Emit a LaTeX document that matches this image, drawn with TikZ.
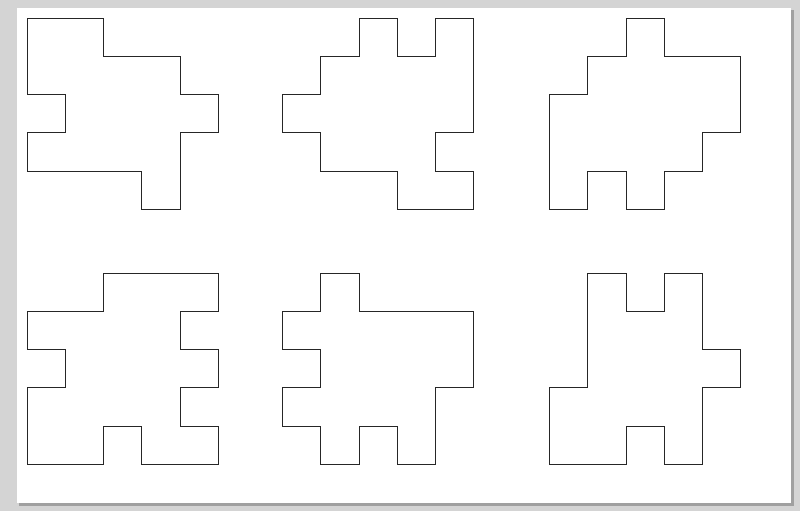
\documentclass[tikz,border=0pt]{standalone}
\usepackage{xcolor}

\definecolor{pagegray}{RGB}{212,212,212}
\definecolor{shadowgray}{RGB}{160,160,160}
\tikzset{piece/.style={line width=1pt, draw=black!85, line join=miter}}

\begin{document}
\begin{tikzpicture}[x=1pt,y=-1pt]

% Page
\fill [pagegray] (0,0) rectangle (800,511);
\useasboundingbox (0,0) rectangle (800,511);
\fill [shadowgray] (19,10) rectangle (794,506);
\fill [white] (17,8) rectangle (791,503);

% Top row
\begin{scope}[shift={(27.3,18.3)},x=38.2pt,y=-38.2pt]
\draw [piece] (0,0) -- (2,0) -- (2,1) -- (4,1) -- (4,2) -- (5,2) -- (5,3) -- (4,3) -- (4,5) -- (3,5) -- (3,4) -- (0,4) -- (0,3) -- (1,3) -- (1,2) -- (0,2) -- cycle;
\end{scope}
\begin{scope}[shift={(282.7,18.3)},x=38.2pt,y=-38.2pt]
\draw [piece] (2,0) -- (3,0) -- (3,1) -- (4,1) -- (4,0) -- (5,0) -- (5,3) -- (4,3) -- (4,4) -- (5,4) -- (5,5) -- (3,5) -- (3,4) -- (1,4) -- (1,3) -- (0,3) -- (0,2) -- (1,2) -- (1,1) -- (2,1) -- cycle;
\end{scope}
\begin{scope}[shift={(549.7,18.3)},x=38.2pt,y=-38.2pt]
\draw [piece] (2,0) -- (3,0) -- (3,1) -- (5,1) -- (5,3) -- (4,3) -- (4,4) -- (3,4) -- (3,5) -- (2,5) -- (2,4) -- (1,4) -- (1,5) -- (0,5) -- (0,2) -- (1,2) -- (1,1) -- (2,1) -- cycle;
\end{scope}

% Bottom row
\begin{scope}[shift={(27.3,273.3)},x=38.2pt,y=-38.2pt]
\draw [piece] (2,0) -- (5,0) -- (5,1) -- (4,1) -- (4,2) -- (5,2) -- (5,3) -- (4,3) -- (4,4) -- (5,4) -- (5,5) -- (3,5) -- (3,4) -- (2,4) -- (2,5) -- (0,5) -- (0,3) -- (1,3) -- (1,2) -- (0,2) -- (0,1) -- (2,1) -- cycle;
\end{scope}
\begin{scope}[shift={(282.7,273.3)},x=38.2pt,y=-38.2pt]
\draw [piece] (1,0) -- (2,0) -- (2,1) -- (5,1) -- (5,3) -- (4,3) -- (4,5) -- (3,5) -- (3,4) -- (2,4) -- (2,5) -- (1,5) -- (1,4) -- (0,4) -- (0,3) -- (1,3) -- (1,2) -- (0,2) -- (0,1) -- (1,1) -- cycle;
\end{scope}
\begin{scope}[shift={(549.7,273.3)},x=38.2pt,y=-38.2pt]
\draw [piece] (1,0) -- (2,0) -- (2,1) -- (3,1) -- (3,0) -- (4,0) -- (4,2) -- (5,2) -- (5,3) -- (4,3) -- (4,5) -- (3,5) -- (3,4) -- (2,4) -- (2,5) -- (0,5) -- (0,3) -- (1,3) -- cycle;
\end{scope}

\end{tikzpicture}
\end{document}
